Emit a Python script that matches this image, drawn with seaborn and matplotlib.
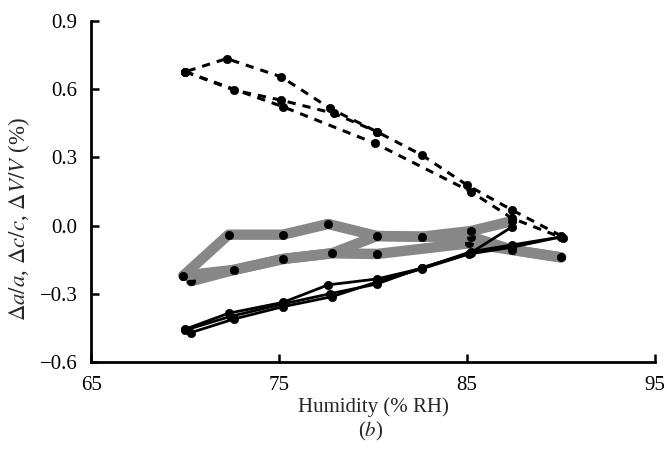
import matplotlib
matplotlib.use('Agg')
import matplotlib.pyplot as plt
import seaborn as sns

# delta c / c (dashed) - three humidity legs
c_rh_1 = [90.0, 87.4, 85.0, 82.6, 80.2, 77.7, 75.1, 72.2, 70.0]
c_val_1 = [-0.045, 0.068, 0.178, 0.31, 0.413, 0.516, 0.655, 0.735, 0.677]
c_rh_2 = [70.0, 72.6, 75.1, 77.9, 80.2]
c_val_2 = [0.677, 0.596, 0.552, 0.494, 0.413]
c_rh_3 = [70.0, 75.2, 80.1, 85.2, 87.4, 90.1]
c_val_3 = [0.677, 0.523, 0.362, 0.149, 0.032, -0.055]

# delta a / a (thick grey)
a_rh_1 = [70.3, 72.6, 75.2, 77.8, 80.2, 85.1, 87.4, 90.0]
a_val_1 = [-0.245, -0.195, -0.147, -0.122, -0.125, -0.078, -0.107, -0.14]
a_rh_2 = [90.0, 87.4, 85.2, 82.6, 80.2, 77.6, 75.2, 72.3, 69.9]
a_val_2 = [-0.14, -0.107, -0.049, -0.049, -0.046, 0.007, -0.04, -0.04, -0.22]
a_rh_3 = [69.9, 72.6, 75.2, 77.8, 80.2, 82.6, 85.2, 87.4]
a_val_3 = [-0.22, -0.195, -0.147, -0.122, -0.046, -0.049, -0.024, 0.02]

# delta V / V (black solid)
v_rh_1 = [70.0, 72.3, 75.2, 77.6, 80.2, 82.6, 85.2, 87.4, 90.0]
v_val_1 = [-0.456, -0.386, -0.338, -0.261, -0.235, -0.188, -0.115, -0.085, -0.05]
v_rh_2 = [90.0, 87.4, 85.1, 82.6, 80.2, 77.8, 75.2, 72.6, 70.3]
v_val_2 = [-0.05, -0.095, -0.125, -0.19, -0.248, -0.313, -0.357, -0.411, -0.471]
v_rh_3 = [70.0, 72.4, 75.2, 77.7, 80.2, 82.6, 85.2, 87.4]
v_val_3 = [-0.46, -0.40, -0.345, -0.30, -0.257, -0.185, -0.12, -0.005]

xticks = [65, 75, 85, 95]
yticks = [-0.6, -0.3, 0.0, 0.3, 0.6, 0.9]
ytick_labels = ['\u22120.6', '\u22120.3', '0.0', '0.3', '0.6', '0.9']

sns.set_style('ticks')
plt.rcParams['font.family'] = ['Liberation Serif', 'DejaVu Serif']
plt.rcParams['mathtext.fontset'] = 'stix'

fig = plt.figure(figsize=(6.67, 4.49), dpi=100)
ax = fig.add_axes([0.137, 0.194, 0.845, 0.759])

mk = dict(marker='o', ms=6, mfc='black', mec='black', mew=0.5)

for rh, val in [(a_rh_1, a_val_1), (a_rh_2, a_val_2), (a_rh_3, a_val_3)]:
    sns.lineplot(x=rh, y=val, ax=ax, sort=False, estimator=None, color='#878787',
                 lw=7.5, solid_capstyle='round', solid_joinstyle='round', zorder=1, **mk)

for rh, val in [(v_rh_1, v_val_1), (v_rh_2, v_val_2), (v_rh_3, v_val_3)]:
    sns.lineplot(x=rh, y=val, ax=ax, sort=False, estimator=None, color='black',
                 lw=2, zorder=2, **mk)

for rh, val in [(c_rh_1, c_val_1), (c_rh_2, c_val_2), (c_rh_3, c_val_3)]:
    sns.lineplot(x=rh, y=val, ax=ax, sort=False, estimator=None, color='black',
                 lw=2.2, ls=(0, (2.7, 2.3)), zorder=3, **mk)

ax.set_xlim(65, 95)
ax.set_ylim(-0.6, 0.9)
ax.set_xticks(xticks)
ax.set_yticks(yticks, labels=ytick_labels)
for s in ['top', 'right']:
    ax.spines[s].set_visible(False)
for s in ['left', 'bottom']:
    ax.spines[s].set_linewidth(2)
    ax.spines[s].set_color('black')
ax.tick_params(direction='in', length=5.5, width=1.8, pad=10, labelsize=15, colors='black')

ax.set_xlabel('Humidity (% RH)', fontsize=15, labelpad=2)
ax.set_ylabel(r'$\Delta a/a$, $\Delta c/c$, $\Delta V/V$ (%)', fontsize=16.5)
ax.yaxis.set_label_coords(-0.106, 0.42)
fig.text(0.556, 1 - 431 / 449, r'($b$)', ha='center', va='center', fontsize=15)

fig.savefig('out.png', dpi=100)
